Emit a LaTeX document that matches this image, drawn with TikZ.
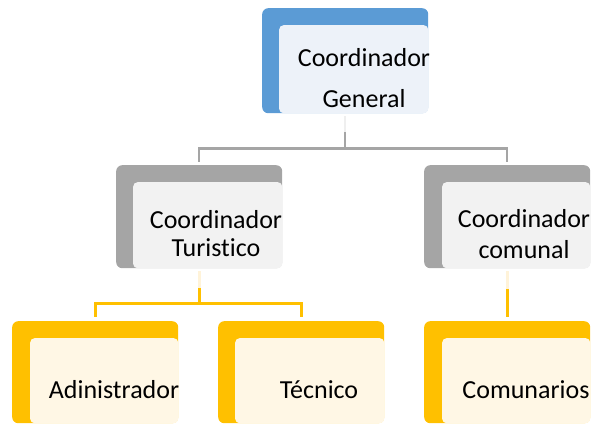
\documentclass[tikz,border=0pt]{standalone}
\usepackage{fontspec}
\setmainfont{Carlito}[Ligatures={NoCommon}]
\usetikzlibrary{calc}
\definecolor{bluedark}{HTML}{5B9BD5}
\definecolor{bluelight}{HTML}{EDF2F9}
\definecolor{graydark}{HTML}{A5A5A5}
\definecolor{graylight}{HTML}{F2F2F2}
\definecolor{yelldark}{HTML}{FFC000}
\definecolor{yelllight}{HTML}{FFF7E5}
\definecolor{graypale}{HTML}{EFEFEF}
\definecolor{yellpale}{HTML}{FFF3D9}
\tikzset{
  outerbox/.style={draw=none, rounded corners=6pt, anchor=north west, inner sep=0pt,
    minimum width=166pt, minimum height=103pt},
  innerbox/.style={rounded corners=5pt},
  lbl/.style={inner sep=0pt, align=center, anchor=base, text=black,
    font=\fontsize{26}{30}\selectfont},
  glink/.style={draw=graydark, line width=2.5pt},
  gpale/.style={draw=graypale, line width=2.5pt},
  ylink/.style={draw=yelldark, line width=3pt},
  ypale/.style={draw=yellpale, line width=3pt}
}
\begin{document}
\begin{tikzpicture}[x=1pt,y=-1pt]
\useasboundingbox (0,0) rectangle (595,424);
% boxes
\node[outerbox, fill=bluedark, minimum height=105pt] (top) at (262,8) {};
\fill[bluelight, innerbox] ($(top.north west)+(17,17)$) rectangle (top.south east);
\node[outerbox, fill=graydark] (ml) at (116,165) {};
\fill[graylight, innerbox] ($(ml.north west)+(17,17)$) rectangle (ml.south east);
\node[outerbox, fill=graydark] (mr) at (424,165) {};
\fill[graylight, innerbox] ($(mr.north west)+(18,17)$) rectangle (mr.south east);
\node[outerbox, fill=yelldark, minimum height=102pt] (b1) at (12,321) {};
\fill[yelllight, innerbox] ($(b1.north west)+(18,17)$) rectangle (b1.south east);
\node[outerbox, fill=yelldark, minimum height=102pt] (b2) at (218,321) {};
\fill[yelllight, innerbox] ($(b2.north west)+(17,17)$) rectangle (b2.south east);
\node[outerbox, fill=yelldark, minimum height=102pt] (b3) at (424,321) {};
\fill[yelllight, innerbox] ($(b3.north west)+(18,17)$) rectangle (b3.south east);
% labels (base anchor = baseline of last line)
\node[lbl, font=\fontsize{26}{41}\selectfont] (topT) at (364,107) {Coordinador\\General};
\node[lbl, font=\fontsize{26}{28}\selectfont] (mlT) at (216,256) {Coordinador\\Turistico};
\node[lbl, font=\fontsize{26}{31}\selectfont] (mrT) at (524,258) {Coordinador\\comunal};
\node[lbl] (b1T) at (114,398) {Adinistrador};
\node[lbl] (b2T) at (319,398) {Técnico};
\node[lbl] (b3T) at (526,398) {Comunarios};
% connectors gray
\coordinate (g1) at ($(top.south)+(0,3)$);
\coordinate (g2) at ($(top.south)+(0,19)$);
\coordinate (gh) at ($(top.south)+(0,35)$);
\draw[gpale] (g1) -- (g2);
\draw[glink] (g2) -- (gh) -| ($(ml.north)+(0,-3)$);
\draw[glink] (gh) -| ($(mr.north)+(0,-3)$);
% connectors yellow
\coordinate (y1) at ($(ml.south)+(0,3)$);
\coordinate (y2) at ($(ml.south)+(0,20)$);
\coordinate (yh) at ($(ml.south)+(0,35)$);
\draw[ypale] (y1) -- (y2);
\draw[ylink] (y2) -- (yh) -| ($(b1.north)+(0,-4)$);
\draw[ylink] (yh) -| ($(b2.north)+(0,-4)$);
\coordinate (y3) at ($(mr.south)+(0,3)$);
\coordinate (y4) at ($(mr.south)+(0,21)$);
\draw[ypale] (y3) -- (y4);
\draw[ylink] (y4) -- ($(b3.north)+(0,-4)$);
\end{tikzpicture}
\end{document}
